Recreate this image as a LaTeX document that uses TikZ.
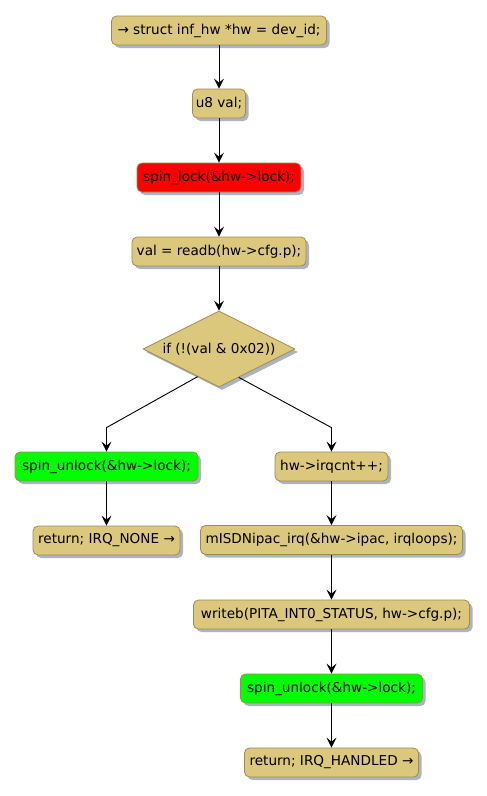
\documentclass[tikz,border=0pt]{standalone}
\usepackage{fontspec}
\setmainfont{DejaVu Sans}
\usetikzlibrary{shapes.geometric,shadows,arrows.meta,calc}
\definecolor{boxfill}{RGB}{220,200,125}
\definecolor{boxline}{RGB}{160,140,70}
\definecolor{shadowc}{RGB}{150,160,185}
\begin{document}
\begin{tikzpicture}[x=1pt,y=-1pt,
  every node/.style={font=\fontsize{13.6}{16}\selectfont},
  act/.style={draw=boxline, line width=0.8pt, fill=boxfill, rounded corners=5pt,
    minimum height=29pt, inner xsep=3pt, inner ysep=2pt,
    drop shadow={shadow xshift=3pt, shadow yshift=-3pt, fill=shadowc, opacity=0.8}},
  red/.style={fill=red},
  grn/.style={fill=green},
  dec/.style={shape=diamond, aspect=2.2, inner sep=0pt, draw=boxline, line width=0.8pt, fill=boxfill,
    minimum width=152pt, minimum height=76pt,
    drop shadow={shadow xshift=3pt, shadow yshift=-3pt, fill=shadowc, opacity=0.8}},
  arr/.style={draw=black, line width=0.9pt, -{Stealth[length=10pt,width=10pt,inset=4pt]}}
]
\useasboundingbox (0,0) rectangle (487,796);
\node[act, minimum width=215pt] (t1) at (219,30.5) {→ struct inf\_hw *hw = dev\_id;};
\node[act, minimum width=53pt] (t2) at (219,103.5) {u8 val;};
\node[act, red, minimum width=164pt] (t3) at (219,177.5) {spin\_lock(\&hw->lock);};
\node[act, minimum width=174pt] (t4) at (219,251.5) {val = readb(hw->cfg.p);};
\node[dec] (d) at (219,349) {if (!(val \& 0x02))};
\node[act, grn, minimum width=183pt] (ul) at (106.5,466.5) {spin\_unlock(\&hw->lock);};
\node[act, minimum width=113pt] (irq) at (331.5,466.5) {hw->irqcnt++;};
\node[act, minimum width=147pt] (rn) at (106.5,540.5) {return; IRQ\_NONE →};
\node[act, minimum width=262pt] (mi) at (331.5,540) {mISDNipac\_irq(\&hw->ipac, irqloops);};
\node[act, minimum width=276pt] (wb) at (331.5,614.5) {writeb(PITA\_INT0\_STATUS, hw->cfg.p);};
\node[act, grn, minimum width=182pt] (ur) at (331.5,688.5) {spin\_unlock(\&hw->lock);};
\node[act, minimum width=174pt] (rh) at (331.5,762.5) {return; IRQ\_HANDLED →};

\draw[arr] (t1.south) -- (t2.north);
\draw[arr] (t2.south) -- (t3.north);
\draw[arr] (t3.south) -- (t4.north);
\draw[arr] (t4.south) -- (d.north);
\draw[arr] ($(d.south)!0.28!(d.west)$) -- ([yshift=24pt]ul.north) -- (ul.north);
\draw[arr] ($(d.south)!0.26!(d.east)$) -- ([yshift=24pt]irq.north) -- (irq.north);
\draw[arr] (ul.south) -- (rn.north);
\draw[arr] (irq.south) -- (mi.north);
\draw[arr] (mi.south) -- (wb.north);
\draw[arr] (wb.south) -- (ur.north);
\draw[arr] (ur.south) -- (rh.north);
\end{tikzpicture}
\end{document}
